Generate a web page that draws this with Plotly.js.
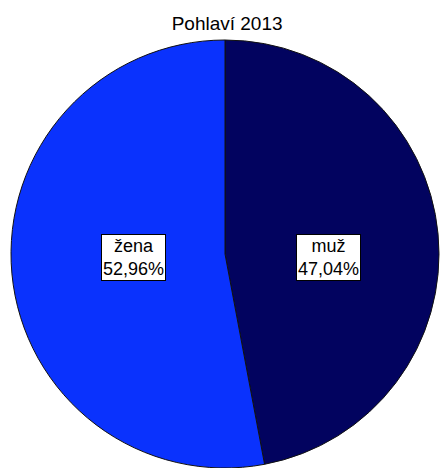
<!DOCTYPE html>
<html>
<head>
<meta charset="utf-8">
<script src="https://cdn.plot.ly/plotly-3.0.1.min.js"></script>
<style>html,body{margin:0;padding:0;background:#fff;}</style>
</head>
<body>
<div id="chart" style="width:441px;height:468px;"></div>
<script>
const categories = ["muž", "žena"];
const values = [47.04, 52.96];
const valueLabels = ["47,04%", "52,96%"];
const colors = ["#02035f", "#0a32fd"];

const W = 441, H = 468;
const margin = {l: 10, r: 1, t: 40, b: 0};
const plotW = W - margin.l - margin.r, plotH = H - margin.t - margin.b;
const R = Math.min(plotW, plotH) / 2;

const total = values.reduce((a, b) => a + b, 0);
let cum = 0;
const annotations = categories.map((c, i) => {
  const half = values[i] / total * Math.PI;          // half slice angle
  const mid = (cum + values[i] / 2) / total * 2 * Math.PI;
  cum += values[i];
  const d = 1.08 * 2 * R * Math.sin(half) / (3 * half); // scaled slice centroid distance
  return {
    xref: 'paper', yref: 'paper',
    x: 0.5 + d * Math.sin(mid) / plotW,
    y: 0.5 - 3 / plotH,
    text: c + '<br>' + valueLabels[i],
    showarrow: false,
    font: {family: 'Liberation Sans, Arial, sans-serif', size: 18, color: '#000'},
    bgcolor: '#ffffff', bordercolor: '#000000', borderwidth: 1, borderpad: 1,
    xanchor: 'center', yanchor: 'middle'
  };
});

const data = [{
  type: 'pie',
  labels: categories,
  values: values,
  sort: false,
  direction: 'clockwise',
  rotation: 0,
  textinfo: 'none',
  hoverinfo: 'none',
  marker: {colors: colors, line: {color: '#111111', width: 1}},
  domain: {x: [0, 1], y: [0, 1]}
}];

const layout = {
  width: W, height: H,
  margin: margin,
  paper_bgcolor: '#ffffff',
  showlegend: false,
  title: {text: 'Pohlaví 2013', x: 0.515, xanchor: 'center', y: 0.951, yanchor: 'middle',
          font: {family: 'Liberation Sans, Arial, sans-serif', size: 19, color: '#000'}},
  annotations: annotations
};

Plotly.newPlot('chart', data, layout, {displayModeBar: false, staticPlot: true});
</script>
</body>
</html>
